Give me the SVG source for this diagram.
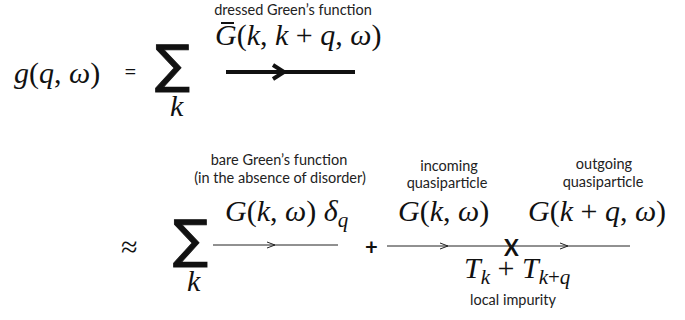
<svg xmlns="http://www.w3.org/2000/svg" width="685" height="320" viewBox="0 0 685 320">
<style>
.m{font-family:"Liberation Serif","DejaVu Serif",serif;font-size:30px;fill:#111}
.i{font-style:italic}
.s{font-size:21px;font-style:italic}
.lab{font-family:Lato,"Open Sans",sans-serif;font-size:14.5px;fill:#222;text-anchor:middle}
.op{font-family:Lato,"Open Sans",sans-serif;font-size:22px;fill:#111}
.sum{font-family:"DejaVu Sans",sans-serif;font-size:52px;fill:#111;stroke:#111;stroke-width:0.9}
.thin{stroke:#222;stroke-width:1;fill:none}
</style>
<rect width="685" height="320" fill="#fff"/>
<g id="lhs">
<text class="m" x="14" y="83" font-size="31"><tspan class="i">g</tspan>(<tspan class="i">q</tspan>, <tspan class="i">ω</tspan>)</text>
<text class="op" x="124" y="79">=</text>
</g>
<g id="sum1">
<text class="sum" x="155" y="82">∑</text>
<text class="m i" x="170" y="116" font-size="22">k</text>
</g>
<g id="dressed">
<text class="lab" x="293" y="15">dressed Green’s function</text>
<text class="m" x="215" y="45"><tspan class="i">G</tspan>(<tspan class="i">k</tspan>, <tspan class="i">k</tspan> + <tspan class="i">q</tspan>, <tspan class="i">ω</tspan>)</text>
<line x1="221" y1="23" x2="234" y2="23" stroke="#111" stroke-width="2"/>
</g>
<g id="approx">
<text x="121" y="257" class="m" font-size="31">≈</text>
</g>
<g id="sum2">
<text class="sum" x="173" y="257">∑</text>
<text class="m i" x="187" y="291" font-size="22">k</text>
</g>
<g id="bare">
<text class="lab" x="279" y="165">bare Green’s function</text>
<text class="lab" x="280" y="183">(in the absence of disorder)</text>
<text class="m" x="225" y="221"><tspan class="i">G</tspan>(<tspan class="i">k</tspan>, <tspan class="i">ω</tspan>) <tspan class="i">δ</tspan><tspan class="s" dy="6">q</tspan></text>
</g>
<text class="op" x="365" y="255" font-weight="bold">+</text>
<g id="incoming">
<text class="lab" x="449" y="171">incoming</text>
<text class="lab" x="447" y="188">quasiparticle</text>
<text class="m" x="398" y="221"><tspan class="i">G</tspan>(<tspan class="i">k</tspan>, <tspan class="i">ω</tspan>)</text>
</g>
<g id="outgoing">
<text class="lab" x="604" y="169">outgoing</text>
<text class="lab" x="603" y="187">quasiparticle</text>
<text class="m" x="528" y="221"><tspan class="i">G</tspan>(<tspan class="i">k</tspan> + <tspan class="i">q</tspan>, <tspan class="i">ω</tspan>)</text>
</g>
<g id="impurity">
<text class="op" x="504" y="256" font-size="26" font-weight="bold">X</text>
<text class="m" x="464" y="278"><tspan class="i">T</tspan><tspan class="s" dy="6">k</tspan><tspan dy="-6"> + </tspan><tspan class="i">T</tspan><tspan class="s" dy="6">k</tspan><tspan font-size="21">+</tspan><tspan class="s">q</tspan></text>
<text class="lab" x="513" y="305">local impurity</text>
</g>
<g id="connectors">
<line x1="226" y1="72" x2="355" y2="72" stroke="#111" stroke-width="4"/>
<polyline points="273,65 284,72 273,79" fill="none" stroke="#111" stroke-width="4"/>
<line class="thin" x1="213" y1="245" x2="338" y2="245"/>
<polyline class="thin" points="267,242 275,245 267,248"/>
<line class="thin" x1="387" y1="246" x2="630" y2="246"/>
<polyline class="thin" points="440,243 448,246 440,249"/>
<polyline class="thin" points="560,243 568,246 560,249"/>
</g>
</svg>
